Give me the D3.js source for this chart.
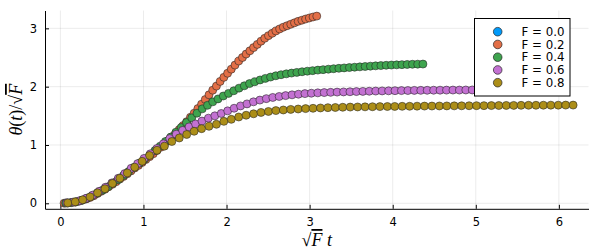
<!DOCTYPE html>
<html>
<head>
<meta charset="utf-8">
<script src="https://cdn.jsdelivr.net/npm/d3@7"></script>
<style>
  html, body { margin: 0; padding: 0; background: #fff; }
  svg { display: block; }
  .tick-label { font-family: "DejaVu Sans", sans-serif; font-size: 11.5px; fill: #000; }
  .axis-title { font-family: "Liberation Serif", serif; font-size: 18px; fill: #000; }
  .legend-label { font-family: "DejaVu Sans", sans-serif; font-size: 11.8px; fill: #000; }
</style>
</head>
<body>
<svg id="chart" width="600" height="250"></svg>
<script>
var tValues = [
  0.1, 0.2, 0.3, 0.4, 0.5, 0.6, 0.7, 0.8, 0.9, 1.0,
  1.1, 1.2, 1.3, 1.4, 1.5, 1.6, 1.7, 1.8, 1.9, 2.0,
  2.1, 2.2, 2.3, 2.4, 2.5, 2.6, 2.7, 2.8, 2.9, 3.0,
  3.1, 3.2, 3.3, 3.4, 3.5, 3.6, 3.7, 3.8, 3.9, 4.0,
  4.1, 4.2, 4.3, 4.4, 4.5, 4.6, 4.7, 4.8, 4.9, 5.0,
  5.1, 5.2, 5.3, 5.4, 5.5, 5.6, 5.7, 5.8, 5.9, 6.0,
  6.1, 6.2, 6.3, 6.4, 6.5, 6.6, 6.7, 6.8, 6.9
];

var forces = [0.0, 0.2, 0.4, 0.6, 0.8];
var seriesLabels = ['F = 0.0', 'F = 0.2', 'F = 0.4', 'F = 0.6', 'F = 0.8'];
var seriesColors = ['#009AFA', '#E36F47', '#3EA44E', '#C371D2', '#AC8E18'];

// theta(t) / sqrt(F), one value per time step (F = 0 gives nothing to plot)
var yF00 = [];
var yF02 = [
  0.002, 0.005, 0.012, 0.02, 0.035, 0.055, 0.075, 0.10, 0.13, 0.168,
  0.205, 0.24, 0.285, 0.325, 0.37, 0.415, 0.46, 0.505, 0.555, 0.605,
  0.65, 0.70, 0.75, 0.80, 0.85, 0.905, 0.96, 1.015, 1.075, 1.14,
  1.20, 1.265, 1.33, 1.40, 1.475, 1.545, 1.625, 1.70, 1.78, 1.86,
  1.94, 2.01, 2.09, 2.16, 2.23, 2.30, 2.37, 2.44, 2.50, 2.56,
  2.615, 2.67, 2.725, 2.78, 2.83, 2.875, 2.915, 2.955, 2.99, 3.02,
  3.045, 3.07, 3.095, 3.12, 3.14, 3.16, 3.178, 3.195, 3.21
];
var yF04 = [
  0.005, 0.013, 0.027, 0.05, 0.085, 0.125, 0.175, 0.225, 0.28, 0.345,
  0.405, 0.475, 0.545, 0.615, 0.685, 0.755, 0.83, 0.905, 0.98, 1.06,
  1.135, 1.22, 1.30, 1.385, 1.465, 1.545, 1.62, 1.68, 1.74, 1.79,
  1.84, 1.885, 1.93, 1.975, 2.015, 2.053, 2.085, 2.115, 2.142, 2.165,
  2.187, 2.205, 2.22, 2.233, 2.245, 2.256, 2.266, 2.275, 2.284, 2.292,
  2.30, 2.308, 2.315, 2.322, 2.328, 2.334, 2.34, 2.346, 2.352, 2.357,
  2.362, 2.367, 2.371, 2.374, 2.378, 2.381, 2.384, 2.386, 2.388
];
var yF06 = [
  0.008, 0.022, 0.045, 0.085, 0.14, 0.205, 0.275, 0.35, 0.43, 0.51,
  0.60, 0.68, 0.77, 0.85, 0.94, 1.02, 1.11, 1.185, 1.25, 1.31,
  1.36, 1.41, 1.46, 1.50, 1.54, 1.585, 1.63, 1.67, 1.705, 1.74,
  1.77, 1.795, 1.815, 1.832, 1.847, 1.86, 1.871, 1.881, 1.888, 1.894,
  1.899, 1.903, 1.907, 1.91, 1.913, 1.916, 1.919, 1.922, 1.925, 1.927,
  1.929, 1.931, 1.933, 1.934, 1.936, 1.937, 1.938, 1.939, 1.94, 1.941,
  1.942, 1.942, 1.943, 1.944, 1.944, 1.945, 1.945, 1.946, 1.946
];
var yF08 = [
  0.007, 0.025, 0.06, 0.11, 0.18, 0.25, 0.34, 0.43, 0.52, 0.62,
  0.72, 0.82, 0.91, 0.98, 1.06, 1.12, 1.18, 1.235, 1.28, 1.32,
  1.355, 1.405, 1.44, 1.48, 1.51, 1.535, 1.558, 1.575, 1.59, 1.60,
  1.61, 1.617, 1.624, 1.629, 1.635, 1.64, 1.643, 1.647, 1.65, 1.652,
  1.654, 1.656, 1.658, 1.66, 1.661, 1.663, 1.664, 1.666, 1.667, 1.668,
  1.669, 1.67, 1.671, 1.672, 1.673, 1.674, 1.675, 1.676, 1.677, 1.678,
  1.679, 1.68, 1.681, 1.681, 1.682, 1.683, 1.683, 1.684, 1.684
];
var yValues = [yF00, yF02, yF04, yF06, yF08];

var xTicks = [0, 1, 2, 3, 4, 5, 6];
var yTicks = [0, 1, 2, 3];

(function() {
  var width = 600;
  var height = 250;
  var margin = { top: 10.5, right: 11.5, bottom: 41.2, left: 45 };

  var series = forces.map(function(f, i) {
    return {
      label: seriesLabels[i],
      color: seriesColors[i],
      points: yValues[i].map(function(y, j) {
        return { x: Math.sqrt(f) * tValues[j], y: y };
      })
    };
  });

  var allPoints = [].concat.apply([], series.map(function(s) { return s.points; }));
  // the F = 0 series still sits at x = 0, so x starts from 0
  var xMin = 0;
  var xMax = d3.max(allPoints, function(d) { return d.x; });
  var yMin = d3.min(allPoints, function(d) { return d.y; });
  var yMax = d3.max(allPoints, function(d) { return d.y; });
  var xPad = (xMax - xMin) * 0.03;
  var yPad = (yMax - yMin) * 0.03;

  var x = d3.scaleLinear()
    .domain([xMin - xPad, xMax + xPad])
    .range([margin.left, width - margin.right]);
  var y = d3.scaleLinear()
    .domain([yMin - yPad, yMax + yPad])
    .range([height - margin.bottom, margin.top]);

  var svg = d3.select('#chart');
  var x0 = margin.left;
  var x1 = width - margin.right;
  var y0 = height - margin.bottom;
  var y1 = margin.top;

  // grid
  svg.append('g')
    .selectAll('line')
    .data(xTicks)
    .enter().append('line')
    .attr('x1', function(d) { return x(d); })
    .attr('x2', function(d) { return x(d); })
    .attr('y1', y0)
    .attr('y2', y1)
    .attr('stroke', '#000')
    .attr('stroke-opacity', 0.08)
    .attr('stroke-width', 1);
  svg.append('g')
    .selectAll('line')
    .data(yTicks)
    .enter().append('line')
    .attr('x1', x0)
    .attr('x2', x1)
    .attr('y1', function(d) { return y(d); })
    .attr('y2', function(d) { return y(d); })
    .attr('stroke', '#000')
    .attr('stroke-opacity', 0.08)
    .attr('stroke-width', 1);

  // axes
  var fmt = d3.format('d');
  var xAxis = svg.append('g')
    .attr('transform', 'translate(0,' + y0 + ')')
    .call(d3.axisBottom(x).tickValues(xTicks).tickFormat(fmt).tickSize(-4).tickPadding(9).tickSizeOuter(0));
  var yAxis = svg.append('g')
    .attr('transform', 'translate(' + x0 + ',0)')
    .call(d3.axisLeft(y).tickValues(yTicks).tickFormat(fmt).tickSize(-4).tickPadding(8).tickSizeOuter(0));

  [xAxis, yAxis].forEach(function(axis) {
    axis.attr('font-family', null).attr('font-size', null);
    axis.select('.domain').attr('stroke', '#000').attr('stroke-width', 1);
    axis.selectAll('.tick line').attr('stroke', '#000');
    axis.selectAll('.tick text').attr('class', 'tick-label');
  });

  // points
  var groups = svg.append('g')
    .selectAll('g.series')
    .data(series)
    .enter().append('g')
    .attr('class', 'series');
  groups.selectAll('circle')
    .data(function(s) { return s.points.map(function(p) { return { p: p, color: s.color }; }); })
    .enter().append('circle')
    .attr('cx', function(d) { return x(d.p.x); })
    .attr('cy', function(d) { return y(d.p.y); })
    .attr('r', 4)
    .attr('fill', function(d) { return d.color; })
    .attr('stroke', '#222')
    .attr('stroke-opacity', 0.8)
    .attr('stroke-width', 0.7);

  // legend
  var legend = svg.append('g');
  var lx = 474.5;
  var ly = 18.5;
  var lw = 95.5;
  var lh = 77.5;
  var rowH = 12.75;
  legend.append('rect')
    .attr('x', lx)
    .attr('y', ly)
    .attr('width', lw)
    .attr('height', lh)
    .attr('fill', '#fff')
    .attr('stroke', '#000')
    .attr('stroke-width', 1);
  var rows = legend.selectAll('g.row')
    .data(series)
    .enter().append('g')
    .attr('class', 'row')
    .attr('transform', function(d, i) { return 'translate(0,' + (ly + 13.2 + i * rowH) + ')'; });
  rows.append('circle')
    .attr('cx', lx + 23.2)
    .attr('cy', 0)
    .attr('r', 4.3)
    .attr('fill', function(d) { return d.color; })
    .attr('stroke', '#222')
    .attr('stroke-width', 0.7);
  rows.append('text')
    .attr('class', 'legend-label')
    .attr('x', lx + 47)
    .attr('y', 4.2)
    .text(function(d) { return d.label; });

  // axis titles
  var xTitle = svg.append('text')
    .attr('class', 'axis-title')
    .attr('x', (x0 + x1) / 2)
    .attr('y', 246)
    .attr('text-anchor', 'middle');
  xTitle.append('tspan').text('\u221A');
  xTitle.append('tspan').attr('font-style', 'italic').style('text-decoration', 'overline').text('F');
  xTitle.append('tspan').text(' ');
  xTitle.append('tspan').attr('font-style', 'italic').text('t');

  var yTitle = svg.append('text')
    .attr('class', 'axis-title')
    .attr('transform', 'translate(22,' + ((y0 + y1) / 2) + ') rotate(-90)')
    .attr('text-anchor', 'middle');
  yTitle.append('tspan').attr('font-style', 'italic').text('\u03B8');
  yTitle.append('tspan').text('(');
  yTitle.append('tspan').attr('font-style', 'italic').text('t');
  yTitle.append('tspan').text(')/\u221A');
  yTitle.append('tspan').attr('font-style', 'italic').style('text-decoration', 'overline').text('F');
})();
</script>
</body>
</html>
